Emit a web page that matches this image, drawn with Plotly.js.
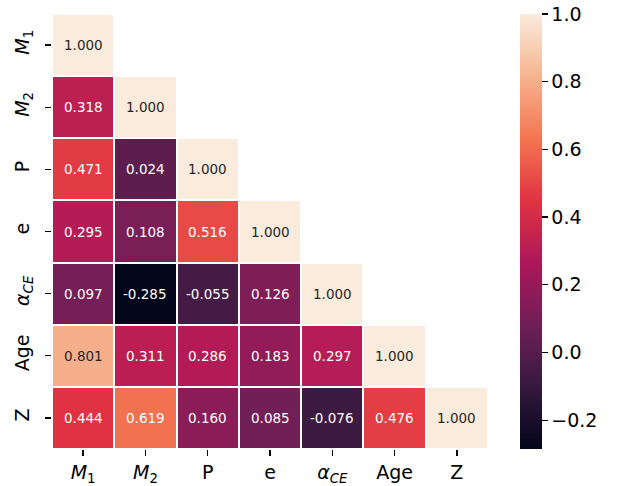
<!DOCTYPE html>
<html><head><meta charset="utf-8">
<script src="https://cdn.plot.ly/plotly-3.0.1.min.js"></script>
<style>body{margin:0;background:#fff}#c{width:617px;height:486px}</style>
</head><body><div id="c"></div>
<script>
const labels = ["<i>M</i><sub>1</sub>", "<i>M</i><sub>2</sub>", "P", "e", "<i>α</i><sub><i>CE</i></sub>", "Age", "Z"];
const rowM1  = [1.000, null, null, null, null, null, null];
const rowM2  = [0.318, 1.000, null, null, null, null, null];
const rowP   = [0.471, 0.024, 1.000, null, null, null, null];
const rowE   = [0.295, 0.108, 0.516, 1.000, null, null, null];
const rowACE = [0.097, -0.285, -0.055, 0.126, 1.000, null, null];
const rowAge = [0.801, 0.311, 0.286, 0.183, 0.297, 1.000, null];
const rowZ   = [0.444, 0.619, 0.160, 0.085, -0.076, 0.476, 1.000];
const z = [rowM1, rowM2, rowP, rowE, rowACE, rowAge, rowZ];
const cbTicks = [-0.2, 0.0, 0.2, 0.4, 0.6, 0.8, 1.0];
const cbTickText = ["\u22120.2", "0.0", "0.2", "0.4", "0.6", "0.8", "1.0"];

const zmin = -0.285, zmax = 1.0;
const rocket = [
  [0, '#03051a'], [1/7, '#35193e'], [2/7, '#701f57'], [3/7, '#ad1759'],
  [4/7, '#e13342'], [5/7, '#f37651'], [6/7, '#f6b48f'], [1, '#faebdd']
];

const annotations = [];
z.forEach((row, i) => row.forEach((v, j) => {
  if (v === null) return;
  const t = (v - zmin) / (zmax - zmin);
  annotations.push({
    x: labels[j], y: labels[i], xref: 'x', yref: 'y',
    text: v.toFixed(3), showarrow: false,
    font: {family: 'DejaVu Sans', size: 13.5, color: t > 0.75 ? '#262626' : '#ffffff'}
  });
}));

const trace = {
  type: 'heatmap', x: labels, y: labels, z: z,
  zmin: zmin, zmax: zmax, colorscale: rocket,
  xgap: 2, ygap: 2, hoverongaps: false,
  colorbar: {
    thickness: 22, thicknessmode: 'pixels', len: 1, lenmode: 'fraction',
    x: 1.073, xanchor: 'left', y: 0.5, yanchor: 'middle', xpad: 0, ypad: 0,
    outlinewidth: 0, ticks: 'outside', ticklen: 6, tickwidth: 1.3, tickcolor: '#000',
    tickvals: cbTicks, ticktext: cbTickText,
    tickfont: {family: 'DejaVu Sans', size: 19, color: '#000'}
  }
};

const layout = {
  width: 617, height: 486,
  margin: {l: 52, r: 129, t: 14, b: 37},
  paper_bgcolor: '#fff', plot_bgcolor: '#fff',
  font: {family: 'DejaVu Sans', color: '#000'},
  xaxis: {type: 'category', showgrid: false, zeroline: false, showline: false,
          ticks: 'outside', ticklen: 6, tickwidth: 1.3, tickcolor: '#000',
          tickfont: {size: 19, color: '#000'}, fixedrange: true, automargin: false},
  yaxis: {type: 'category', autorange: 'reversed', showgrid: false, zeroline: false, showline: false,
          ticks: 'outside', ticklen: 6, tickwidth: 1.3, tickcolor: '#000', tickangle: -90,
          ticklabelstandoff: 8,
          tickfont: {size: 19, color: '#000'}, fixedrange: true, automargin: false},
  annotations: annotations
};
Plotly.newPlot('c', [trace], layout, {displayModeBar: false, staticPlot: true});
</script></body></html>
